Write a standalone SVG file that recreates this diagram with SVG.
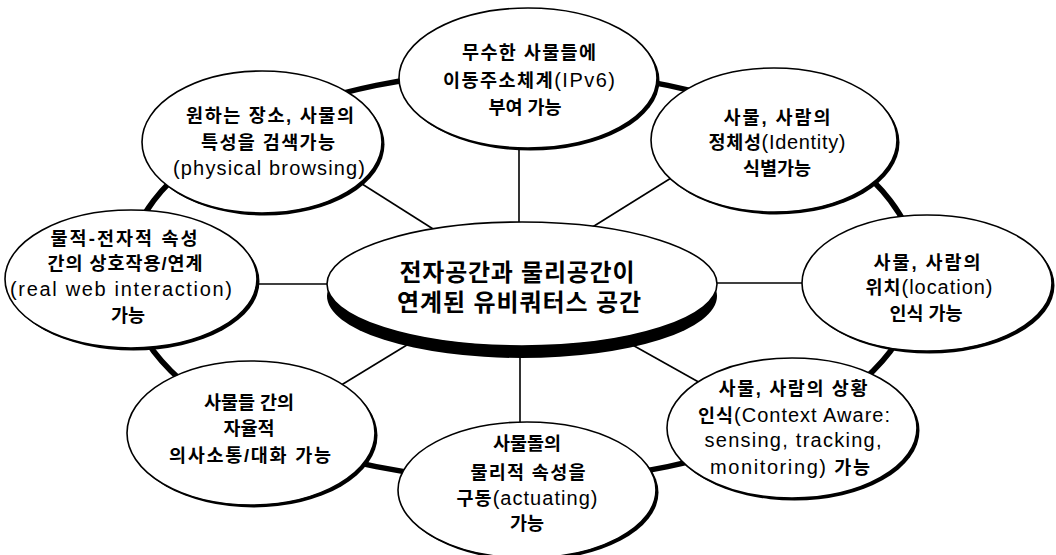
<svg xmlns="http://www.w3.org/2000/svg" width="1056" height="555" viewBox="0 0 1056 555">
<style>
.ring{fill:none;stroke:#000;stroke-width:5.5}
.conn{stroke:#000;stroke-width:1.6;fill:none}
.sh{fill:#000}
.node{fill:#fff;stroke:#000;stroke-width:1.6}
.t{font-family:"Liberation Sans","Noto Sans CJK KR",sans-serif;font-size:18.5px;font-weight:bold;text-anchor:middle;fill:#000}
.l{font-size:20px;font-weight:normal}
.c{font-family:"Liberation Sans","Noto Sans CJK KR",sans-serif;font-size:24px;font-weight:bold;text-anchor:middle;fill:#000}
</style>
<rect width="1056" height="555" fill="#fff"/>
<ellipse id="ring" class="ring" cx="522" cy="276" rx="396" ry="205"/>
<g id="connectors">
<line class="conn" x1="519" y1="140" x2="519" y2="235"/>
<line class="conn" x1="340" y1="170" x2="460" y2="246"/>
<line class="conn" x1="700" y1="160" x2="570" y2="241"/>
<line class="conn" x1="250" y1="284" x2="335" y2="284"/>
<line class="conn" x1="710" y1="283" x2="810" y2="283"/>
<line class="conn" x1="320" y1="398" x2="420" y2="337"/>
<line class="conn" x1="520" y1="340" x2="520" y2="430"/>
<line class="conn" x1="620" y1="338" x2="720" y2="394"/>
</g>
<g id="n_top">
<ellipse class="sh" cx="530.5" cy="80.5" rx="129" ry="70"/>
<ellipse class="node" cx="528" cy="78" rx="129" ry="70"/>
<text class="t" x="529" y="59" textLength="134" lengthAdjust="spacing">무수한 사물들에</text>
<text class="t" x="529" y="87" textLength="172" lengthAdjust="spacing">이동주소체계<tspan class="l">(IPv6)</tspan></text>
<text class="t" x="525" y="114">부여 가능</text>
</g>
<g id="n_ul">
<ellipse class="sh" cx="264.5" cy="144.5" rx="120" ry="71"/>
<ellipse class="node" cx="262" cy="142" rx="120" ry="71"/>
<text class="t" x="270" y="122" textLength="168" lengthAdjust="spacing">원하는 장소, 사물의</text>
<text class="t" x="268" y="149" textLength="134" lengthAdjust="spacing">특성을 검색가능</text>
<text class="t" x="269" y="175" textLength="192" lengthAdjust="spacing"><tspan class="l">(physical browsing)</tspan></text>
</g>
<g id="n_ur">
<ellipse class="sh" cx="776.5" cy="142.5" rx="123" ry="72"/>
<ellipse class="node" cx="774" cy="140" rx="123" ry="72"/>
<text class="t" x="777" y="124" textLength="107" lengthAdjust="spacing">사물, 사람의</text>
<text class="t" x="777" y="149" textLength="137" lengthAdjust="spacing">정체성<tspan class="l">(Identity)</tspan></text>
<text class="t" x="777" y="175">식별가능</text>
</g>
<g id="n_left">
<ellipse class="sh" cx="133.5" cy="281.5" rx="126" ry="69"/>
<ellipse class="node" cx="131" cy="279" rx="126" ry="69"/>
<text class="t" x="124" y="245" textLength="147" lengthAdjust="spacing">물적-전자적 속성</text>
<text class="t" x="125" y="270" textLength="155" lengthAdjust="spacing">간의 상호작용/연계</text>
<text class="t" x="121" y="296" textLength="222" lengthAdjust="spacing"><tspan class="l">(real web interaction)</tspan></text>
<text class="t" x="128" y="322">가능</text>
</g>
<g id="n_right">
<ellipse class="sh" cx="929.5" cy="285.5" rx="125" ry="68"/>
<ellipse class="node" cx="927" cy="283" rx="125" ry="68"/>
<text class="t" x="927" y="269" textLength="107" lengthAdjust="spacing">사물, 사람의</text>
<text class="t" x="929" y="294" textLength="127" lengthAdjust="spacing">위치<tspan class="l">(location)</tspan></text>
<text class="t" x="926" y="320">인식 가능</text>
</g>
<g id="n_ll">
<ellipse class="sh" cx="253.5" cy="435.5" rx="124" ry="72"/>
<ellipse class="node" cx="251" cy="433" rx="124" ry="72"/>
<text class="t" x="249" y="409">사물들 간의</text>
<text class="t" x="249" y="435">자율적</text>
<text class="t" x="250" y="462" textLength="162" lengthAdjust="spacing">의사소통/대화 가능</text>
</g>
<g id="n_bottom">
<ellipse class="sh" cx="529.5" cy="492.5" rx="129" ry="68"/>
<ellipse class="node" cx="527" cy="490" rx="129" ry="68"/>
<text class="t" x="527" y="450">사물돌의</text>
<text class="t" x="528" y="479" textLength="115" lengthAdjust="spacing">물리적 속성을</text>
<text class="t" x="527" y="505" textLength="141" lengthAdjust="spacing">구동<tspan class="l">(actuating)</tspan></text>
<text class="t" x="527" y="530">가능</text>
</g>
<g id="n_lr">
<ellipse class="sh" cx="794.5" cy="430.5" rx="125" ry="70"/>
<ellipse class="node" cx="792" cy="428" rx="125" ry="70"/>
<text class="t" x="793" y="395" textLength="149" lengthAdjust="spacing">사물, 사람의 상황</text>
<text class="t" x="794" y="422" textLength="192" lengthAdjust="spacing">인식<tspan class="l">(Context Aware:</tspan></text>
<text class="t" x="793" y="447" textLength="177" lengthAdjust="spacing"><tspan class="l">sensing, tracking,</tspan></text>
<text class="t" x="790" y="474" textLength="160" lengthAdjust="spacing"><tspan class="l">monitoring)</tspan> 가능</text>
</g>
<g id="n_center">
<ellipse class="sh" cx="522" cy="296" rx="195" ry="62"/>
<ellipse class="node" cx="522" cy="284" rx="195" ry="62"/>
<text class="c" x="517" y="281" textLength="235" lengthAdjust="spacing">전자공간과 물리공간이</text>
<text class="c" x="519" y="311" textLength="244" lengthAdjust="spacing">연계된 유비쿼터스 공간</text>
</g>
</svg>
